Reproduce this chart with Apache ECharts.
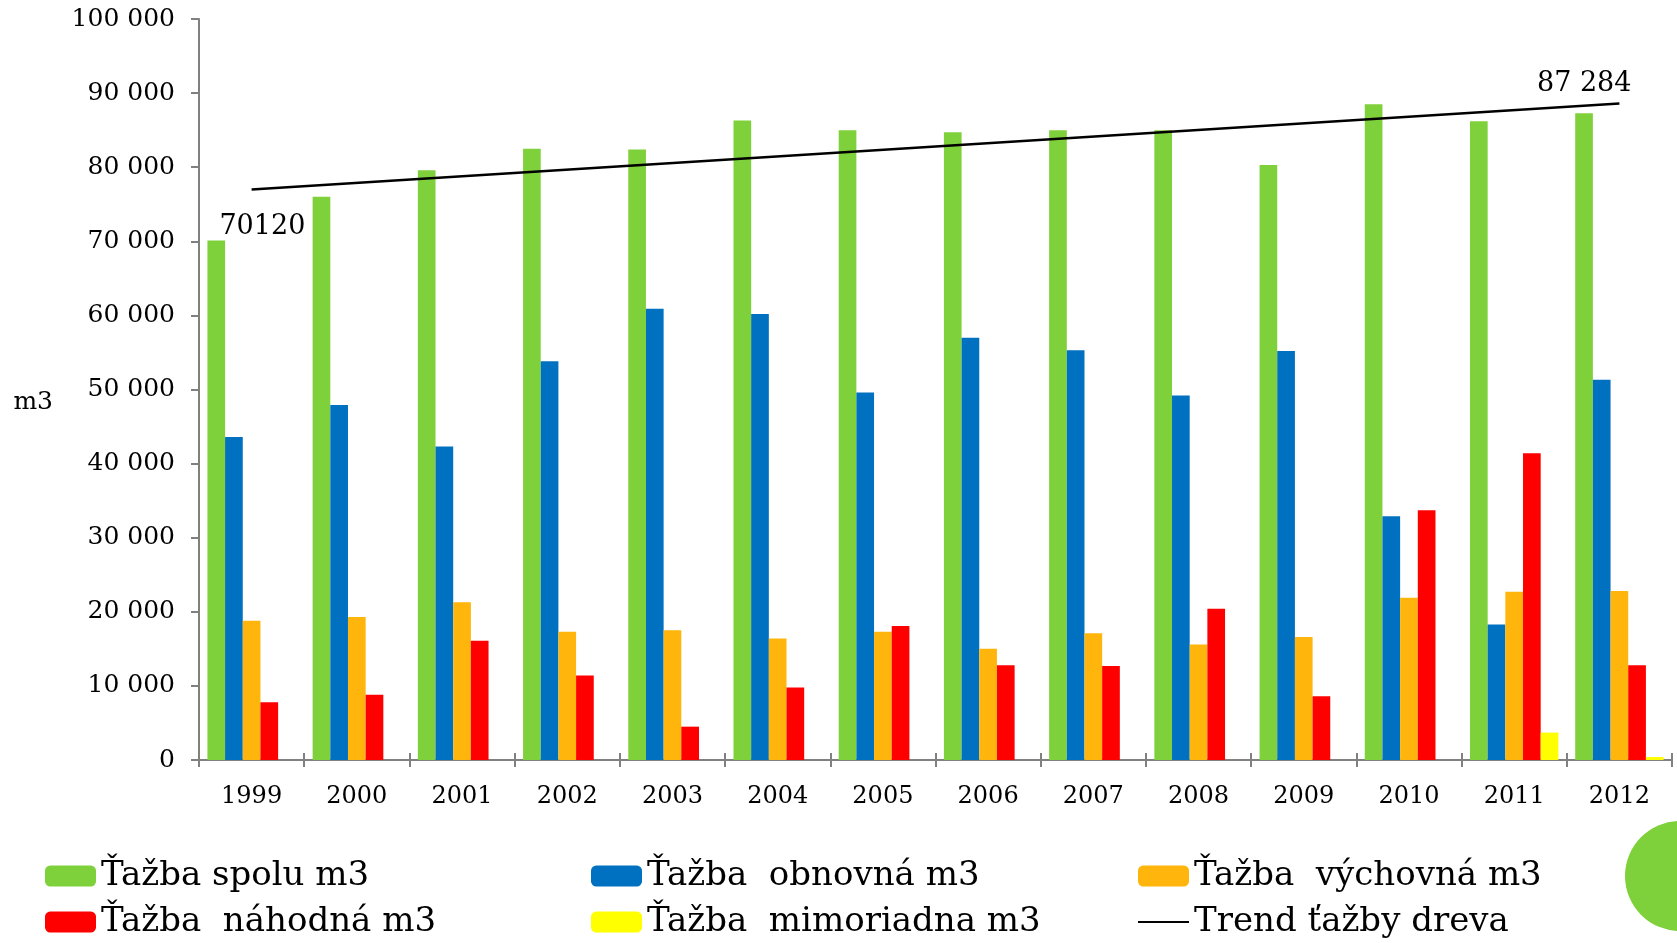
<!DOCTYPE html>
<html>
<head>
<meta charset="utf-8">
<script src="https://cdn.jsdelivr.net/npm/echarts@6/dist/echarts.min.js"></script>
<style>html,body{margin:0;padding:0;background:#fff}#c{width:1677px;height:943px}</style>
</head>
<body>
<div id="c"></div>
<script>
const years = ['1999','2000','2001','2002','2003','2004','2005','2006','2007','2008','2009','2010','2011','2012'];
const spolu = [70120, 76000, 79600, 82500, 82400, 86300, 85000, 84700, 85000, 85000, 80300, 88500, 86200, 87284];
const obnovna = [43600, 47900, 42300, 53800, 60900, 60200, 49600, 57000, 55300, 49200, 55200, 32900, 18300, 51300];
const vychovna = [18800, 19300, 21300, 17300, 17500, 16400, 17300, 15000, 17100, 15600, 16600, 21900, 22700, 22800];
const nahodna = [7800, 8800, 16100, 11400, 4500, 9800, 18100, 12800, 12700, 20400, 8600, 33700, 41400, 12800];
const mimoriadna = [0, 0, 0, 0, 0, 0, 0, 0, 0, 0, 0, 0, 3700, 400];
const trendStart = 77000, trendEnd = 88600;
const yTicks = {min: 0, max: 100000, interval: 10000};

const FONT = 'DejaVu Serif';
const fmt = v => String(v).replace(/\B(?=(\d{3})+(?!\d))/g, ' ');
const last = years.length - 1;

const trendData = years.map((y, i) => i === 0 ? trendStart : (i === last ? trendEnd : null));

const labelStyle = {color: '#000', fontFamily: FONT, fontSize: 27};
const spoluData = spolu.map((v, i) => {
  if (i === 0) return {value: v, label: Object.assign({show: true, position: [12, -13], align: 'left', verticalAlign: 'middle', formatter: p => String(p.value)}, labelStyle)};
  if (i === last) return {value: v, label: Object.assign({show: true, position: [9, -29], align: 'center', verticalAlign: 'middle', formatter: p => fmt(p.value)}, labelStyle)};
  return v;
});

const mk = (name, data, color) => ({
  name, type: 'bar', data, barGap: 0, barCategoryGap: '16%',
  itemStyle: {color}, emphasis: {disabled: true}
});

const chart = echarts.init(document.getElementById('c'), null, {renderer: 'canvas'});
function legendAt(left, names) {
  return {
    left: left, top: 859, orient: 'vertical', padding: 0,
    itemWidth: 51, itemHeight: 21, itemGap: 12, height: 84,
    textStyle: {fontFamily: FONT, fontSize: 34, color: '#000'},
    selectedMode: false,
    data: names
  };
}
chart.setOption({
  animation: false,
  textStyle: {fontFamily: FONT},
  grid: {left: 199, right: 5, top: 19, bottom: 183, containLabel: false, outerBoundsMode: 'none'},
  legend: [
    legendAt(45, ['Ťažba spolu m3', 'Ťažba  náhodná m3']),
    legendAt(591, ['Ťažba  obnovná m3', 'Ťažba  mimoriadna m3']),
    legendAt(1137, ['Ťažba  výchovná m3', {name: 'Trend ťažby dreva', itemStyle: {color: 'rgba(0,0,0,0)', borderWidth: 0, opacity: 0}}])
  ],
  xAxis: [{
    type: 'category', data: years,
    axisLine: {lineStyle: {color: '#808080', width: 2}},
    axisTick: {show: true, length: 7, lineStyle: {color: '#808080', width: 2}},
    axisLabel: {color: '#000', fontFamily: FONT, fontSize: 24, margin: 25}
  }, {
    type: 'category', data: years, position: 'bottom', gridIndex: 0,
    axisLine: {show: false},
    axisTick: {show: true, inside: true, length: 7, lineStyle: {color: '#808080', width: 2}},
    axisLabel: {show: false}
  }],
  yAxis: {
    type: 'value', min: yTicks.min, max: yTicks.max, interval: yTicks.interval,
    name: 'm3', nameLocation: 'middle', nameRotate: 0, nameGap: 146,
    nameTextStyle: {color: '#000', fontFamily: FONT, fontSize: 25, verticalAlign: 'top'},
    splitLine: {show: false},
    axisLine: {show: true, lineStyle: {color: '#808080', width: 2}},
    axisTick: {show: true, length: 8, lineStyle: {color: '#808080', width: 2}},
    axisLabel: {color: '#000', fontFamily: FONT, fontSize: 25, margin: 24, formatter: fmt}
  },
  series: [
    mk('Ťažba spolu m3', spoluData, '#7FD13B'),
    mk('Ťažba  obnovná m3', obnovna, '#0070C0'),
    mk('Ťažba  výchovná m3', vychovna, '#FFB50B'),
    mk('Ťažba  náhodná m3', nahodna, '#FF0000'),
    mk('Ťažba  mimoriadna m3', mimoriadna, '#FFFF00'),
    {
      name: 'Trend ťažby dreva', type: 'line', data: trendData, connectNulls: true,
      symbol: 'none', lineStyle: {color: '#000', width: 2.5}, itemStyle: {color: '#000'},
      emphasis: {disabled: true}, z: 5
    }
  ],
  graphic: [{
    type: 'circle', shape: {cx: 1680, cy: 876, r: 55}, style: {fill: '#7FD13B'}, silent: true
  }]
});
</script>
</body>
</html>
